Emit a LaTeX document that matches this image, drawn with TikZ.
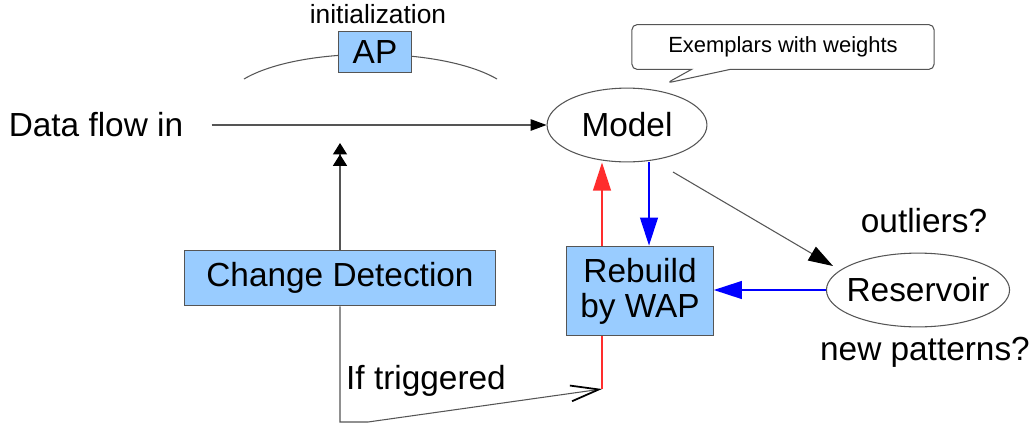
\documentclass[tikz,border=0pt]{standalone}
\usepackage{fontspec}
\setmainfont{Liberation Sans}
\usetikzlibrary{arrows.meta,shapes.geometric,shapes.callouts}
\definecolor{boxblue}{RGB}{153,204,255}
\definecolor{linegrey}{RGB}{85,85,85}
\definecolor{flowred}{RGB}{255,45,45}
\definecolor{flowblue}{RGB}{0,0,255}

\begin{document}
\begin{tikzpicture}[x=0.02cm,y=-0.02cm]
        \tikzstyle{every node}+=[inner sep=0pt, font=\fontsize{19}{20}\selectfont]
        \tikzstyle{box}=[draw=linegrey, fill=boxblue, line width=0.6pt]
        \tikzstyle{oval}=[ellipse, draw=linegrey, line width=0.6pt]
        \tikzstyle{thin line}=[draw=linegrey, line width=0.6pt]
        \tikzstyle{red flow}=[draw=flowred, line width=1.4pt]
        \tikzstyle{blue flow}=[draw=flowblue, line width=1.4pt]
        \fill [white] (0,0) rectangle (1035,430);
        \useasboundingbox (0,0) rectangle (1035,430);
        % initialization arc behind AP
        \draw [thin line] (244,79) .. controls (300,46) and (440,46) .. (497,79);
        \node [box, minimum width=42pt, minimum height=23pt] (ap) at (375,52) {AP};
        \node [font=\fontsize{15}{16}\selectfont] (init) at (378,14) {initialization};
        \node (data) at (96,125) {Data flow in};
        \node [oval, minimum width=91pt, minimum height=42pt] (model) at (627,125) {Model};
        \node [rectangle callout, draw=linegrey, line width=0.6pt, rounded corners=3pt,
               minimum width=172pt, minimum height=25.5pt, callout pointer width=22pt,
               callout absolute pointer={(667,83)},
               font=\fontsize{12.5}{14}\selectfont] (note) at (783,47) {Exemplars with weights};
        \node [box, minimum width=177.5pt, minimum height=31.7pt] (cd) at (340,278) {Change Detection};
        \node [box, minimum width=83.3pt, minimum height=51pt, align=center,
               font=\fontsize{19}{20}\selectfont] (rb) at (640,291) {Rebuild\\by WAP};
        \node [oval, inner xsep=-3.8pt, minimum height=42pt] (res) at (918,290) {Reservoir};
        \node (outl) at (924,221) {outliers?};
        \node (newp) at (925,352) {new patterns?};
        \node (trg) at (426,381) {If triggered};
        \coordinate (cdtop) at (340,143);
        \coordinate (cdlow) at (340,422);
        \coordinate (trig) at (602,389);
        \coordinate (bx) at (649,0);
        \coordinate (m2) at (673,172);
        \coordinate (rtip) at (833,266);
        % data flow
        \draw [thin line, -{Triangle[length=9pt,width=6.5pt,color=black]}, shorten <=16pt] (data) -- (model.west);
        \draw [thin line, -{Triangle[length=6.5pt,width=8pt,color=black]Triangle[length=6.5pt,width=8pt,color=black]}] (cd.north) -- (cdtop);
        \draw [thin line, -{Straight Barb[length=16pt,width=9pt,color=black,line width=1pt]}] (cd.south) -- (cdlow) -- ++(28,0) -- (trig);
        % rebuild loop
        \draw [red flow] (trig) -- (trig |- rb.south);
        \draw [red flow, -{Triangle[length=16pt,width=10pt]}] (trig |- rb.north) -- (trig |- model.south);
        \draw [blue flow, -{Triangle[length=16pt,width=10pt]}] (bx |- model.south) -- (bx |- rb.north);
        \draw [blue flow, -{Triangle[length=16pt,width=10pt]}] (res.west) -- (res.west -| rb.east);
        \draw [thin line, -{Triangle[length=14pt,width=9pt,color=black]}] (m2) -- (rtip);
\end{tikzpicture}
\end{document}
